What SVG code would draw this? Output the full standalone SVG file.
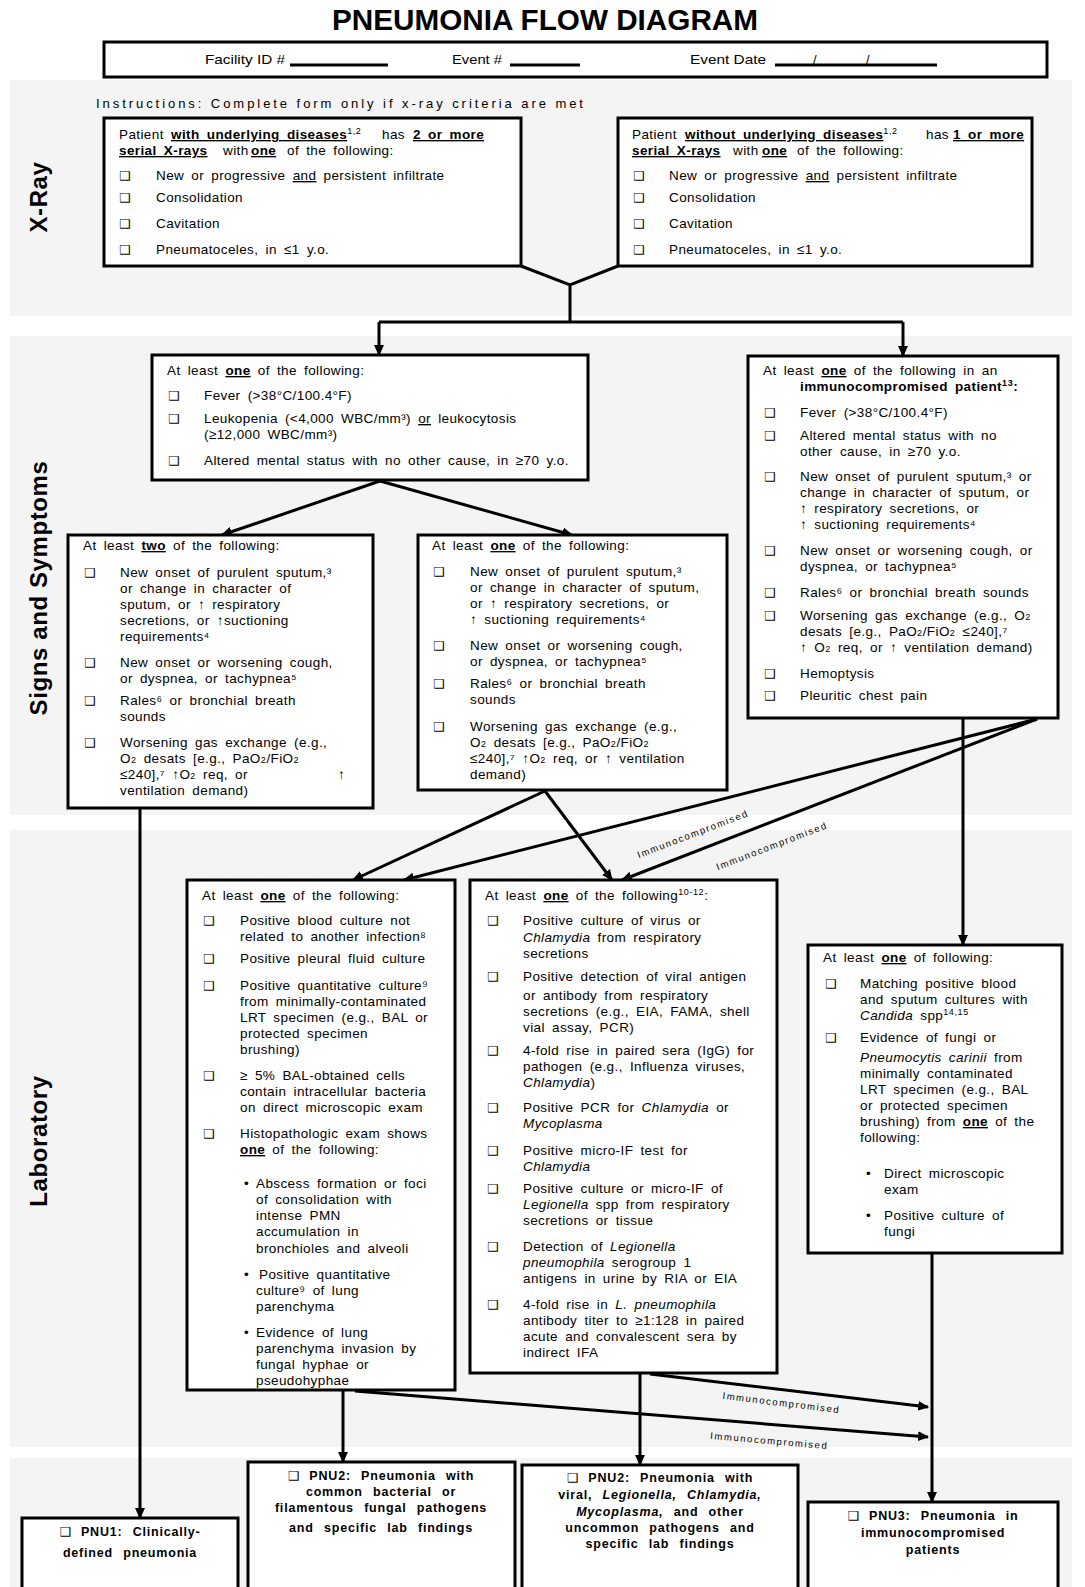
<svg xmlns="http://www.w3.org/2000/svg" width="1085" height="1587" viewBox="0 0 1085 1587">
<defs>
<style>
text{font-family:"Liberation Sans",Arial,sans-serif;font-size:13.5px;letter-spacing:0.4px;word-spacing:3px;fill:#000}
.b{font-weight:bold}
.u{text-decoration:underline}
.i{font-style:italic}
.cb{font-family:"DejaVu Sans",sans-serif;font-size:12.5px;letter-spacing:0;word-spacing:0}
.sm{font-size:9px;letter-spacing:0.6px}
.box{fill:#fff;stroke:#000;stroke-width:3}
.band{fill:#f4f4f4}
.con{stroke:#000;stroke-width:3;fill:none}
.arr{marker-end:url(#ah)}
.sec{font-size:24px;font-weight:bold;letter-spacing:0.6px;word-spacing:0}
.im{font-size:9.5px;letter-spacing:1.6px;word-spacing:0}
.pn{font-weight:bold;font-size:12.5px;letter-spacing:0.8px;word-spacing:6px;text-anchor:middle}
.hd{font-size:13px;letter-spacing:0;word-spacing:0}
.ul{stroke:#000;stroke-width:3}
</style>
<marker id="ah" viewBox="0 0 10 10" refX="9" refY="5" markerWidth="11" markerHeight="11" markerUnits="userSpaceOnUse" orient="auto"><path d="M0,0.5 L10,5 L0,9.5 z" fill="#000"/></marker>
</defs>
<rect width="1085" height="1587" fill="#fff"/>
<g id="bands">
<rect class="band" x="10" y="80" width="1062" height="236"/>
<rect class="band" x="10" y="336" width="1062" height="479"/>
<rect class="band" x="10" y="830" width="1062" height="617"/>
<rect class="band" x="10" y="1458" width="1062" height="129"/>
</g>
<g id="title">
<text x="545" y="30" class="b" style="font-size:29px;letter-spacing:0;word-spacing:0" text-anchor="middle" textLength="426" lengthAdjust="spacingAndGlyphs">PNEUMONIA FLOW DIAGRAM</text>
</g>
<g id="header">
<rect x="104" y="42" width="943" height="35" fill="#fff" stroke="#000" stroke-width="3"/>
<text class="hd" x="205" y="64" textLength="80" lengthAdjust="spacingAndGlyphs">Facility ID #</text>
<line class="ul" x1="290" y1="65" x2="388" y2="65"/>
<text class="hd" x="452" y="64" textLength="50" lengthAdjust="spacingAndGlyphs">Event #</text>
<line class="ul" x1="510" y1="65" x2="580" y2="65"/>
<text class="hd" x="690" y="64" textLength="76" lengthAdjust="spacingAndGlyphs">Event Date</text>
<line class="ul" x1="775" y1="65" x2="937" y2="65"/>
<text class="hd" x="813" y="64">/</text>
<text class="hd" x="866" y="64">/</text>
</g>
<g id="section-labels">
<text class="sec" transform="translate(47,197) rotate(-90)" text-anchor="middle">X-Ray</text>
<text class="sec" transform="translate(47,588) rotate(-90)" text-anchor="middle">Signs and Symptoms</text>
<text class="sec" transform="translate(47,1141) rotate(-90)" text-anchor="middle">Laboratory</text>
</g>
<text class="hd" x="96" y="108" textLength="487" lengthAdjust="spacing">Instructions: Complete form only if x-ray criteria are met</text>

<g id="connectors">
<path class="con" d="M521,266 L570,285 L618,266 M570,285 V322 M379,322 H903"/>
<path class="con arr" d="M379,322 V355"/>
<path class="con arr" d="M903,322 V356"/>
<path class="con arr" d="M380,481 L222,535"/>
<path class="con arr" d="M380,481 L572,535"/>
<path class="con arr" d="M140,808 V1518"/>
<path class="con arr" d="M545,791 L353,880"/>
<path class="con arr" d="M545,791 L612,880"/>
<path class="con arr" d="M1037,719 L404,880"/>
<path class="con arr" d="M1037,719 L622,880"/>
<path class="con arr" d="M963,719 V945"/>
<path class="con arr" d="M343,1391 V1462"/>
<path class="con arr" d="M640,1374 V1465"/>
<path class="con arr" d="M650,1374 L928,1407"/>
<path class="con arr" d="M355,1391 L928,1437"/>
<path class="con arr" d="M932,1254 V1502"/>
<text class="im" transform="translate(694,837) rotate(-21)" text-anchor="middle">Immunocompromised</text>
<text class="im" transform="translate(773,849) rotate(-21)" text-anchor="middle">Immunocompromised</text>
<text class="im" transform="translate(781,1406) rotate(7)" text-anchor="middle">Immunocompromised</text>
<text class="im" transform="translate(769,1444) rotate(5)" text-anchor="middle">Immunocompromised</text>
</g>

<g id="xray-with">
<rect class="box" x="104" y="118" width="417" height="148"/>
<text y="139"><tspan x="119">Patient</tspan><tspan x="171" class="b u">with underlying diseases</tspan><tspan class="sm" dy="-5">1,2</tspan><tspan x="382" dy="5">has</tspan><tspan x="413" class="b u">2 or more</tspan></text>
<text y="155"><tspan x="119" class="b u">serial X-rays</tspan><tspan x="223">with</tspan><tspan x="251" class="b u">one</tspan><tspan x="287">of the following:</tspan></text>
<text class="cb" x="119" y="180">❑</text><text x="156" y="180">New or progressive <tspan class="u">and</tspan> persistent infiltrate</text>
<text class="cb" x="119" y="202">❑</text><text x="156" y="202">Consolidation</text>
<text class="cb" x="119" y="228">❑</text><text x="156" y="228">Cavitation</text>
<text class="cb" x="119" y="254">❑</text><text x="156" y="254">Pneumatoceles, in ≤1 y.o.</text>
</g>

<g id="xray-without">
<rect class="box" x="618" y="118" width="414" height="148"/>
<text y="139"><tspan x="632">Patient</tspan><tspan x="685" class="b u">without underlying diseases</tspan><tspan class="sm" dy="-5">1,2</tspan><tspan x="926" dy="5">has</tspan><tspan x="953" class="b u">1 or more</tspan></text>
<text y="155"><tspan x="632" class="b u">serial X-rays</tspan><tspan x="733">with</tspan><tspan x="762" class="b u">one</tspan><tspan x="797">of the following:</tspan></text>
<text class="cb" x="633" y="180">❑</text><text x="669" y="180">New or progressive <tspan class="u">and</tspan> persistent infiltrate</text>
<text class="cb" x="633" y="202">❑</text><text x="669" y="202">Consolidation</text>
<text class="cb" x="633" y="228">❑</text><text x="669" y="228">Cavitation</text>
<text class="cb" x="633" y="254">❑</text><text x="669" y="254">Pneumatoceles, in ≤1 y.o.</text>
</g>

<g id="signs-one">
<rect class="box" x="152" y="355" width="436" height="125"/>
<text x="167" y="375">At least <tspan class="b u">one</tspan> of the following:</text>
<text class="cb" x="168" y="400">❑</text><text x="204" y="400">Fever (&gt;38°C/100.4°F)</text>
<text class="cb" x="168" y="423">❑</text><text x="204" y="423">Leukopenia (&lt;4,000 WBC/mm³) <tspan class="u">or</tspan> leukocytosis</text>
<text x="204" y="439">(≥12,000 WBC/mm³)</text>
<text class="cb" x="168" y="465">❑</text><text x="204" y="465">Altered mental status with no other cause, in ≥70 y.o.</text>
</g>

<g id="signs-immuno">
<rect class="box" x="748" y="356" width="310" height="362"/>
<text x="763" y="375">At least <tspan class="b u">one</tspan> of the following in an</text>
<text x="800" y="391" class="b">immunocompromised patient<tspan class="sm" dy="-5">13</tspan><tspan dy="5">:</tspan></text>
<text class="cb" x="764" y="417">❑</text><text x="800" y="417">Fever (&gt;38°C/100.4°F)</text>
<text class="cb" x="764" y="440">❑</text><text x="800" y="440">Altered mental status with no</text>
<text x="800" y="456">other cause, in ≥70 y.o.</text>
<text class="cb" x="764" y="481">❑</text><text x="800" y="481">New onset of purulent sputum,³ or</text>
<text x="800" y="497">change in character of sputum, or</text>
<text x="800" y="513">↑ respiratory secretions, or</text>
<text x="800" y="529">↑ suctioning requirements⁴</text>
<text class="cb" x="764" y="555">❑</text><text x="800" y="555">New onset or worsening cough, or</text>
<text x="800" y="571">dyspnea, or tachypnea⁵</text>
<text class="cb" x="764" y="597">❑</text><text x="800" y="597">Rales⁶ or bronchial breath sounds</text>
<text class="cb" x="764" y="620">❑</text><text x="800" y="620">Worsening gas exchange (e.g., O<tspan class="sm">2</tspan></text>
<text x="800" y="636">desats [e.g., PaO<tspan class="sm">2</tspan>/FiO<tspan class="sm">2</tspan> ≤240],⁷</text>
<text x="800" y="652">↑ O<tspan class="sm">2</tspan> req, or ↑ ventilation demand)</text>
<text class="cb" x="764" y="678">❑</text><text x="800" y="678">Hemoptysis</text>
<text class="cb" x="764" y="700">❑</text><text x="800" y="700">Pleuritic chest pain</text>
</g>

<g id="signs-two">
<rect class="box" x="68" y="535" width="305" height="273"/>
<text x="83" y="550">At least <tspan class="b u">two</tspan> of the following:</text>
<text class="cb" x="84" y="577">❑</text><text x="120" y="577">New onset of purulent sputum,³</text>
<text x="120" y="593">or change in character of</text>
<text x="120" y="609">sputum, or ↑ respiratory</text>
<text x="120" y="625">secretions, or ↑suctioning</text>
<text x="120" y="641">requirements⁴</text>
<text class="cb" x="84" y="667">❑</text><text x="120" y="667">New onset or worsening cough,</text>
<text x="120" y="683">or dyspnea, or tachypnea⁵</text>
<text class="cb" x="84" y="705">❑</text><text x="120" y="705">Rales⁶ or bronchial breath</text>
<text x="120" y="721">sounds</text>
<text class="cb" x="84" y="747">❑</text><text x="120" y="747">Worsening gas exchange (e.g.,</text>
<text x="120" y="763">O<tspan class="sm">2</tspan> desats [e.g., PaO<tspan class="sm">2</tspan>/FiO<tspan class="sm">2</tspan></text>
<text y="779"><tspan x="120">≤240],⁷ ↑O</tspan><tspan class="sm">2</tspan><tspan> req, or</tspan><tspan x="338">↑</tspan></text>
<text x="120" y="795">ventilation demand)</text>
</g>

<g id="signs-one-b">
<rect class="box" x="418" y="535" width="309" height="255"/>
<text x="432" y="550">At least <tspan class="b u">one</tspan> of the following:</text>
<text class="cb" x="433" y="576">❑</text><text x="470" y="576">New onset of purulent sputum,³</text>
<text x="470" y="592">or change in character of sputum,</text>
<text x="470" y="608">or ↑ respiratory secretions, or</text>
<text x="470" y="624">↑ suctioning requirements⁴</text>
<text class="cb" x="433" y="650">❑</text><text x="470" y="650">New onset or worsening cough,</text>
<text x="470" y="666">or dyspnea, or tachypnea⁵</text>
<text class="cb" x="433" y="688">❑</text><text x="470" y="688">Rales⁶ or bronchial breath</text>
<text x="470" y="704">sounds</text>
<text class="cb" x="433" y="731">❑</text><text x="470" y="731">Worsening gas exchange (e.g.,</text>
<text x="470" y="747">O<tspan class="sm">2</tspan> desats [e.g., PaO<tspan class="sm">2</tspan>/FiO<tspan class="sm">2</tspan></text>
<text x="470" y="763">≤240],⁷ ↑O<tspan class="sm">2</tspan> req, or ↑ ventilation</text>
<text x="470" y="779">demand)</text>
</g>

<g id="lab-bacterial">
<rect class="box" x="187" y="880" width="268" height="510"/>
<text x="202" y="900">At least <tspan class="b u">one</tspan> of the following:</text>
<text class="cb" x="203" y="925">❑</text><text x="240" y="925">Positive blood culture not</text>
<text x="240" y="941">related to another infection⁸</text>
<text class="cb" x="203" y="963">❑</text><text x="240" y="963">Positive pleural fluid culture</text>
<text class="cb" x="203" y="990">❑</text><text x="240" y="990">Positive quantitative culture⁹</text>
<text x="240" y="1006">from minimally-contaminated</text>
<text x="240" y="1022">LRT specimen (e.g., BAL or</text>
<text x="240" y="1038">protected specimen</text>
<text x="240" y="1054">brushing)</text>
<text class="cb" x="203" y="1080">❑</text><text x="240" y="1080">≥ 5% BAL-obtained cells</text>
<text x="240" y="1096">contain intracellular bacteria</text>
<text x="240" y="1112">on direct microscopic exam</text>
<text class="cb" x="203" y="1138">❑</text><text x="240" y="1138">Histopathologic exam shows</text>
<text x="240" y="1154"><tspan class="b u">one</tspan> of the following:</text>
<text x="244" y="1188">•</text><text x="256" y="1188">Abscess formation or foci</text>
<text x="256" y="1204">of consolidation with</text>
<text x="256" y="1220">intense PMN</text>
<text x="256" y="1236">accumulation in</text>
<text x="256" y="1253">bronchioles and alveoli</text>
<text x="244" y="1279">•</text><text x="259" y="1279">Positive quantitative</text>
<text x="256" y="1295">culture⁹ of lung</text>
<text x="256" y="1311">parenchyma</text>
<text x="244" y="1337">•</text><text x="256" y="1337">Evidence of lung</text>
<text x="256" y="1353">parenchyma invasion by</text>
<text x="256" y="1369">fungal hyphae or</text>
<text x="256" y="1385">pseudohyphae</text>
</g>

<g id="lab-viral">
<rect class="box" x="470" y="880" width="307" height="493"/>
<text x="485" y="900">At least <tspan class="b u">one</tspan> of the following<tspan class="sm" dy="-5">10-12</tspan><tspan dy="5">:</tspan></text>
<text class="cb" x="487" y="925">❑</text><text x="523" y="925">Positive culture of virus or</text>
<text x="523" y="942"><tspan class="i">Chlamydia</tspan> from respiratory</text>
<text x="523" y="958">secretions</text>
<text class="cb" x="487" y="981">❑</text><text x="523" y="981">Positive detection of viral antigen</text>
<text x="523" y="1000">or antibody from respiratory</text>
<text x="523" y="1016">secretions (e.g., EIA, FAMA, shell</text>
<text x="523" y="1032">vial assay, PCR)</text>
<text class="cb" x="487" y="1055">❑</text><text x="523" y="1055">4-fold rise in paired sera (IgG) for</text>
<text x="523" y="1071">pathogen (e.g., Influenza viruses,</text>
<text x="523" y="1087"><tspan class="i">Chlamydia</tspan>)</text>
<text class="cb" x="487" y="1112">❑</text><text x="523" y="1112">Positive PCR for <tspan class="i">Chlamydia</tspan> or</text>
<text x="523" y="1128" class="i">Mycoplasma</text>
<text class="cb" x="487" y="1155">❑</text><text x="523" y="1155">Positive micro-IF test for</text>
<text x="523" y="1171" class="i">Chlamydia</text>
<text class="cb" x="487" y="1193">❑</text><text x="523" y="1193">Positive culture or micro-IF of</text>
<text x="523" y="1209"><tspan class="i">Legionella</tspan> spp from respiratory</text>
<text x="523" y="1225">secretions or tissue</text>
<text class="cb" x="487" y="1251">❑</text><text x="523" y="1251">Detection of <tspan class="i">Legionella</tspan></text>
<text x="523" y="1267"><tspan class="i">pneumophila</tspan> serogroup 1</text>
<text x="523" y="1283">antigens in urine by RIA or EIA</text>
<text class="cb" x="487" y="1309">❑</text><text x="523" y="1309">4-fold rise in <tspan class="i">L. pneumophila</tspan></text>
<text x="523" y="1325">antibody titer to ≥1:128 in paired</text>
<text x="523" y="1341">acute and convalescent sera by</text>
<text x="523" y="1357">indirect IFA</text>
</g>

<g id="lab-fungal">
<rect class="box" x="808" y="945" width="254" height="308"/>
<text x="823" y="962">At least <tspan class="b u">one</tspan> of following:</text>
<text class="cb" x="825" y="988">❑</text><text x="860" y="988">Matching positive blood</text>
<text x="860" y="1004">and sputum cultures with</text>
<text x="860" y="1020"><tspan class="i">Candida</tspan> spp<tspan class="sm" dy="-5">14,15</tspan></text>
<text class="cb" x="825" y="1042">❑</text><text x="860" y="1042">Evidence of fungi or</text>
<text x="860" y="1062"><tspan class="i">Pneumocytis carinii</tspan> from</text>
<text x="860" y="1078">minimally contaminated</text>
<text x="860" y="1094">LRT specimen (e.g., BAL</text>
<text x="860" y="1110">or protected specimen</text>
<text x="860" y="1126">brushing) from <tspan class="b u">one</tspan> of the</text>
<text x="860" y="1142">following:</text>
<text x="866" y="1178">•</text><text x="884" y="1178">Direct microscopic</text>
<text x="884" y="1194">exam</text>
<text x="866" y="1220">•</text><text x="884" y="1220">Positive culture of</text>
<text x="884" y="1236">fungi</text>
</g>

<g id="pnu1">
<rect class="box" x="22" y="1518" width="216" height="74"/>
<text class="pn" x="130" y="1536"><tspan class="cb" style="font-weight:normal">❑</tspan> PNU1: Clinically-</text>
<text class="pn" x="130" y="1557">defined pneumonia</text>
</g>
<g id="pnu2-bacterial">
<rect class="box" x="248" y="1462" width="267" height="130"/>
<text class="pn" x="381" y="1480"><tspan class="cb" style="font-weight:normal">❑</tspan> PNU2: Pneumonia with</text>
<text class="pn" x="381" y="1496">common bacterial or</text>
<text class="pn" x="381" y="1512">filamentous fungal pathogens</text>
<text class="pn" x="381" y="1532">and specific lab findings</text>
</g>
<g id="pnu2-viral">
<rect class="box" x="522" y="1465" width="276" height="127"/>
<text class="pn" x="660" y="1482"><tspan class="cb" style="font-weight:normal">❑</tspan> PNU2: Pneumonia with</text>
<text class="pn" x="660" y="1499">viral, <tspan class="i">Legionella, Chlamydia,</tspan></text>
<text class="pn" x="660" y="1516"><tspan class="i">Mycoplasma,</tspan> and other</text>
<text class="pn" x="660" y="1532">uncommon pathogens and</text>
<text class="pn" x="660" y="1548">specific lab findings</text>
</g>
<g id="pnu3">
<rect class="box" x="808" y="1502" width="250" height="90"/>
<text class="pn" x="933" y="1520"><tspan class="cb" style="font-weight:normal">❑</tspan> PNU3: Pneumonia in</text>
<text class="pn" x="933" y="1537">immunocompromised</text>
<text class="pn" x="933" y="1554">patients</text>
</g>
</svg>
